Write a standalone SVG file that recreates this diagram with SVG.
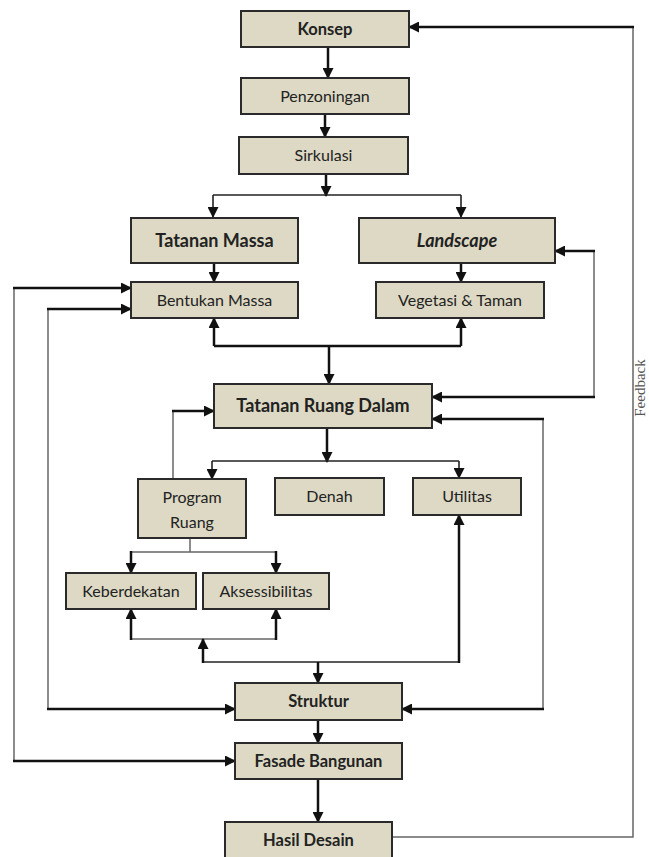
<svg xmlns="http://www.w3.org/2000/svg" width="649" height="857" viewBox="0 0 649 857">
<style>
.box{fill:#ddd9c4;stroke:#2a2a2a;stroke-width:2}
.t{font-family:Lato,"Open Sans",sans-serif;font-size:16px;fill:#222;text-anchor:middle}
.b{font-weight:bold;font-size:16.5px}
.L{font-size:18px}
.k{fill:none;stroke:#111;stroke-width:2.5}
.m{fill:none;stroke:#222;stroke-width:1.6}
.g{fill:none;stroke:#666;stroke-width:1.5}
.a{marker-end:url(#ah)}
</style>
<defs>
<marker id="ah" markerUnits="userSpaceOnUse" markerWidth="11" markerHeight="11" refX="10" refY="5.5" orient="auto" viewBox="0 0 11 11">
<path d="M0,0 L11,5.5 L0,11 z" fill="#111"/>
</marker>
</defs>
<g id="connectors">
<path class="k a" d="M328,47 V78"/>
<path class="k a" d="M325,114 V137"/>
<path class="k a" d="M326,174 V196"/>
<path class="m" d="M213,195 H461"/>
<path class="m a" d="M213,195 V217"/>
<path class="m a" d="M461,195 V217"/>
<path class="k a" d="M214,263 V282"/>
<path class="k a" d="M461,263 V282"/>
<path class="k" d="M214,346 H461"/>
<path class="k a" d="M214,346 V318"/>
<path class="k a" d="M461,346 V318"/>
<path class="k a" d="M329,346 V384"/>
<path class="g" d="M14,761 V288"/>
<path class="k a" d="M13,288 H131"/>
<path class="k a" d="M13,761 H235"/>
<path class="g" d="M48,709 V309"/>
<path class="k a" d="M47,309 H131"/>
<path class="k a" d="M47,709 H235"/>
<path class="g" d="M173,479 V411"/>
<path class="k a" d="M172,411 H214"/>
<path class="g" d="M594,251 V397"/>
<path class="k a" d="M595,251 H555"/>
<path class="k a" d="M595,397 H432"/>
<path class="g" d="M543,419 V709"/>
<path class="k a" d="M544,419 H432"/>
<path class="k a" d="M544,709 H402"/>
<path class="k a" d="M327,428 V462"/>
<path class="m" d="M212,461 H459"/>
<path class="m a" d="M212,461 V479"/>
<path class="m a" d="M459,461 V478"/>
<path class="g" d="M190,538 V552"/>
<path class="g" d="M131,552 H276"/>
<path class="k a" d="M131,551 V573"/>
<path class="k a" d="M276,551 V573"/>
<path class="g" d="M131,639 H276"/>
<path class="k a" d="M131,640 V609"/>
<path class="k a" d="M276,640 V609"/>
<path class="m" d="M203,662 H459"/>
<path class="k a" d="M203,663 V639"/>
<path class="k a" d="M459,663 V515"/>
<path class="k a" d="M318,662 V683"/>
<path class="k a" d="M318,720 V743"/>
<path class="k a" d="M318,779 V822"/>
<path class="g" d="M392,837 H633 V27"/>
<path class="k a" d="M634,27 H409"/>
</g>
<g id="konsep"><rect class="box" x="241" y="11" width="168" height="36"/><text class="t b" x="325" y="35">Konsep</text></g>
<g id="penzoningan"><rect class="box" x="241" y="78" width="168" height="36"/><text class="t" x="325" y="102">Penzoningan</text></g>
<g id="sirkulasi"><rect class="box" x="239" y="137" width="169" height="37"/><text class="t" x="323.5" y="161">Sirkulasi</text></g>
<g id="tatanan-massa"><rect class="box" x="131" y="218" width="167" height="45"/><text class="t b L" x="214.5" y="247">Tatanan Massa</text></g>
<g id="landscape"><rect class="box" x="359" y="218" width="196" height="45"/><text class="t b L" x="457" y="247" font-style="italic">Landscape</text></g>
<g id="bentukan-massa"><rect class="box" x="131" y="282" width="167" height="36"/><text class="t" x="214.5" y="306">Bentukan Massa</text></g>
<g id="vegetasi-taman"><rect class="box" x="376" y="282" width="168" height="36"/><text class="t" x="460" y="306">Vegetasi &amp; Taman</text></g>
<g id="tatanan-ruang-dalam"><rect class="box" x="214" y="384" width="218" height="44"/><text class="t b L" x="323" y="412">Tatanan Ruang Dalam</text></g>
<g id="program-ruang"><rect class="box" x="138" y="479" width="108" height="59"/><text class="t" x="192" y="503">Program</text><text class="t" x="192" y="528">Ruang</text></g>
<g id="denah"><rect class="box" x="275" y="478" width="109" height="37"/><text class="t" x="329.5" y="502">Denah</text></g>
<g id="utilitas"><rect class="box" x="413" y="478" width="108" height="37"/><text class="t" x="467" y="502">Utilitas</text></g>
<g id="keberdekatan"><rect class="box" x="66" y="573" width="130" height="36"/><text class="t" x="131" y="597">Keberdekatan</text></g>
<g id="aksessibilitas"><rect class="box" x="203" y="573" width="126" height="36"/><text class="t" x="266" y="597">Aksessibilitas</text></g>
<g id="struktur"><rect class="box" x="235" y="683" width="167" height="37"/><text class="t b" x="318.5" y="707">Struktur</text></g>
<g id="fasade-bangunan"><rect class="box" x="235" y="743" width="167" height="36"/><text class="t b" x="318.5" y="767">Fasade Bangunan</text></g>
<g id="hasil-desain"><rect class="box" x="225" y="822" width="167" height="36"/><text class="t b" x="308.5" y="846">Hasil Desain</text></g>
<text x="0" y="0" transform="translate(645,388) rotate(-90)" font-family="'Liberation Serif',serif" font-size="15" fill="#555" text-anchor="middle">Feedback</text>
</svg>
